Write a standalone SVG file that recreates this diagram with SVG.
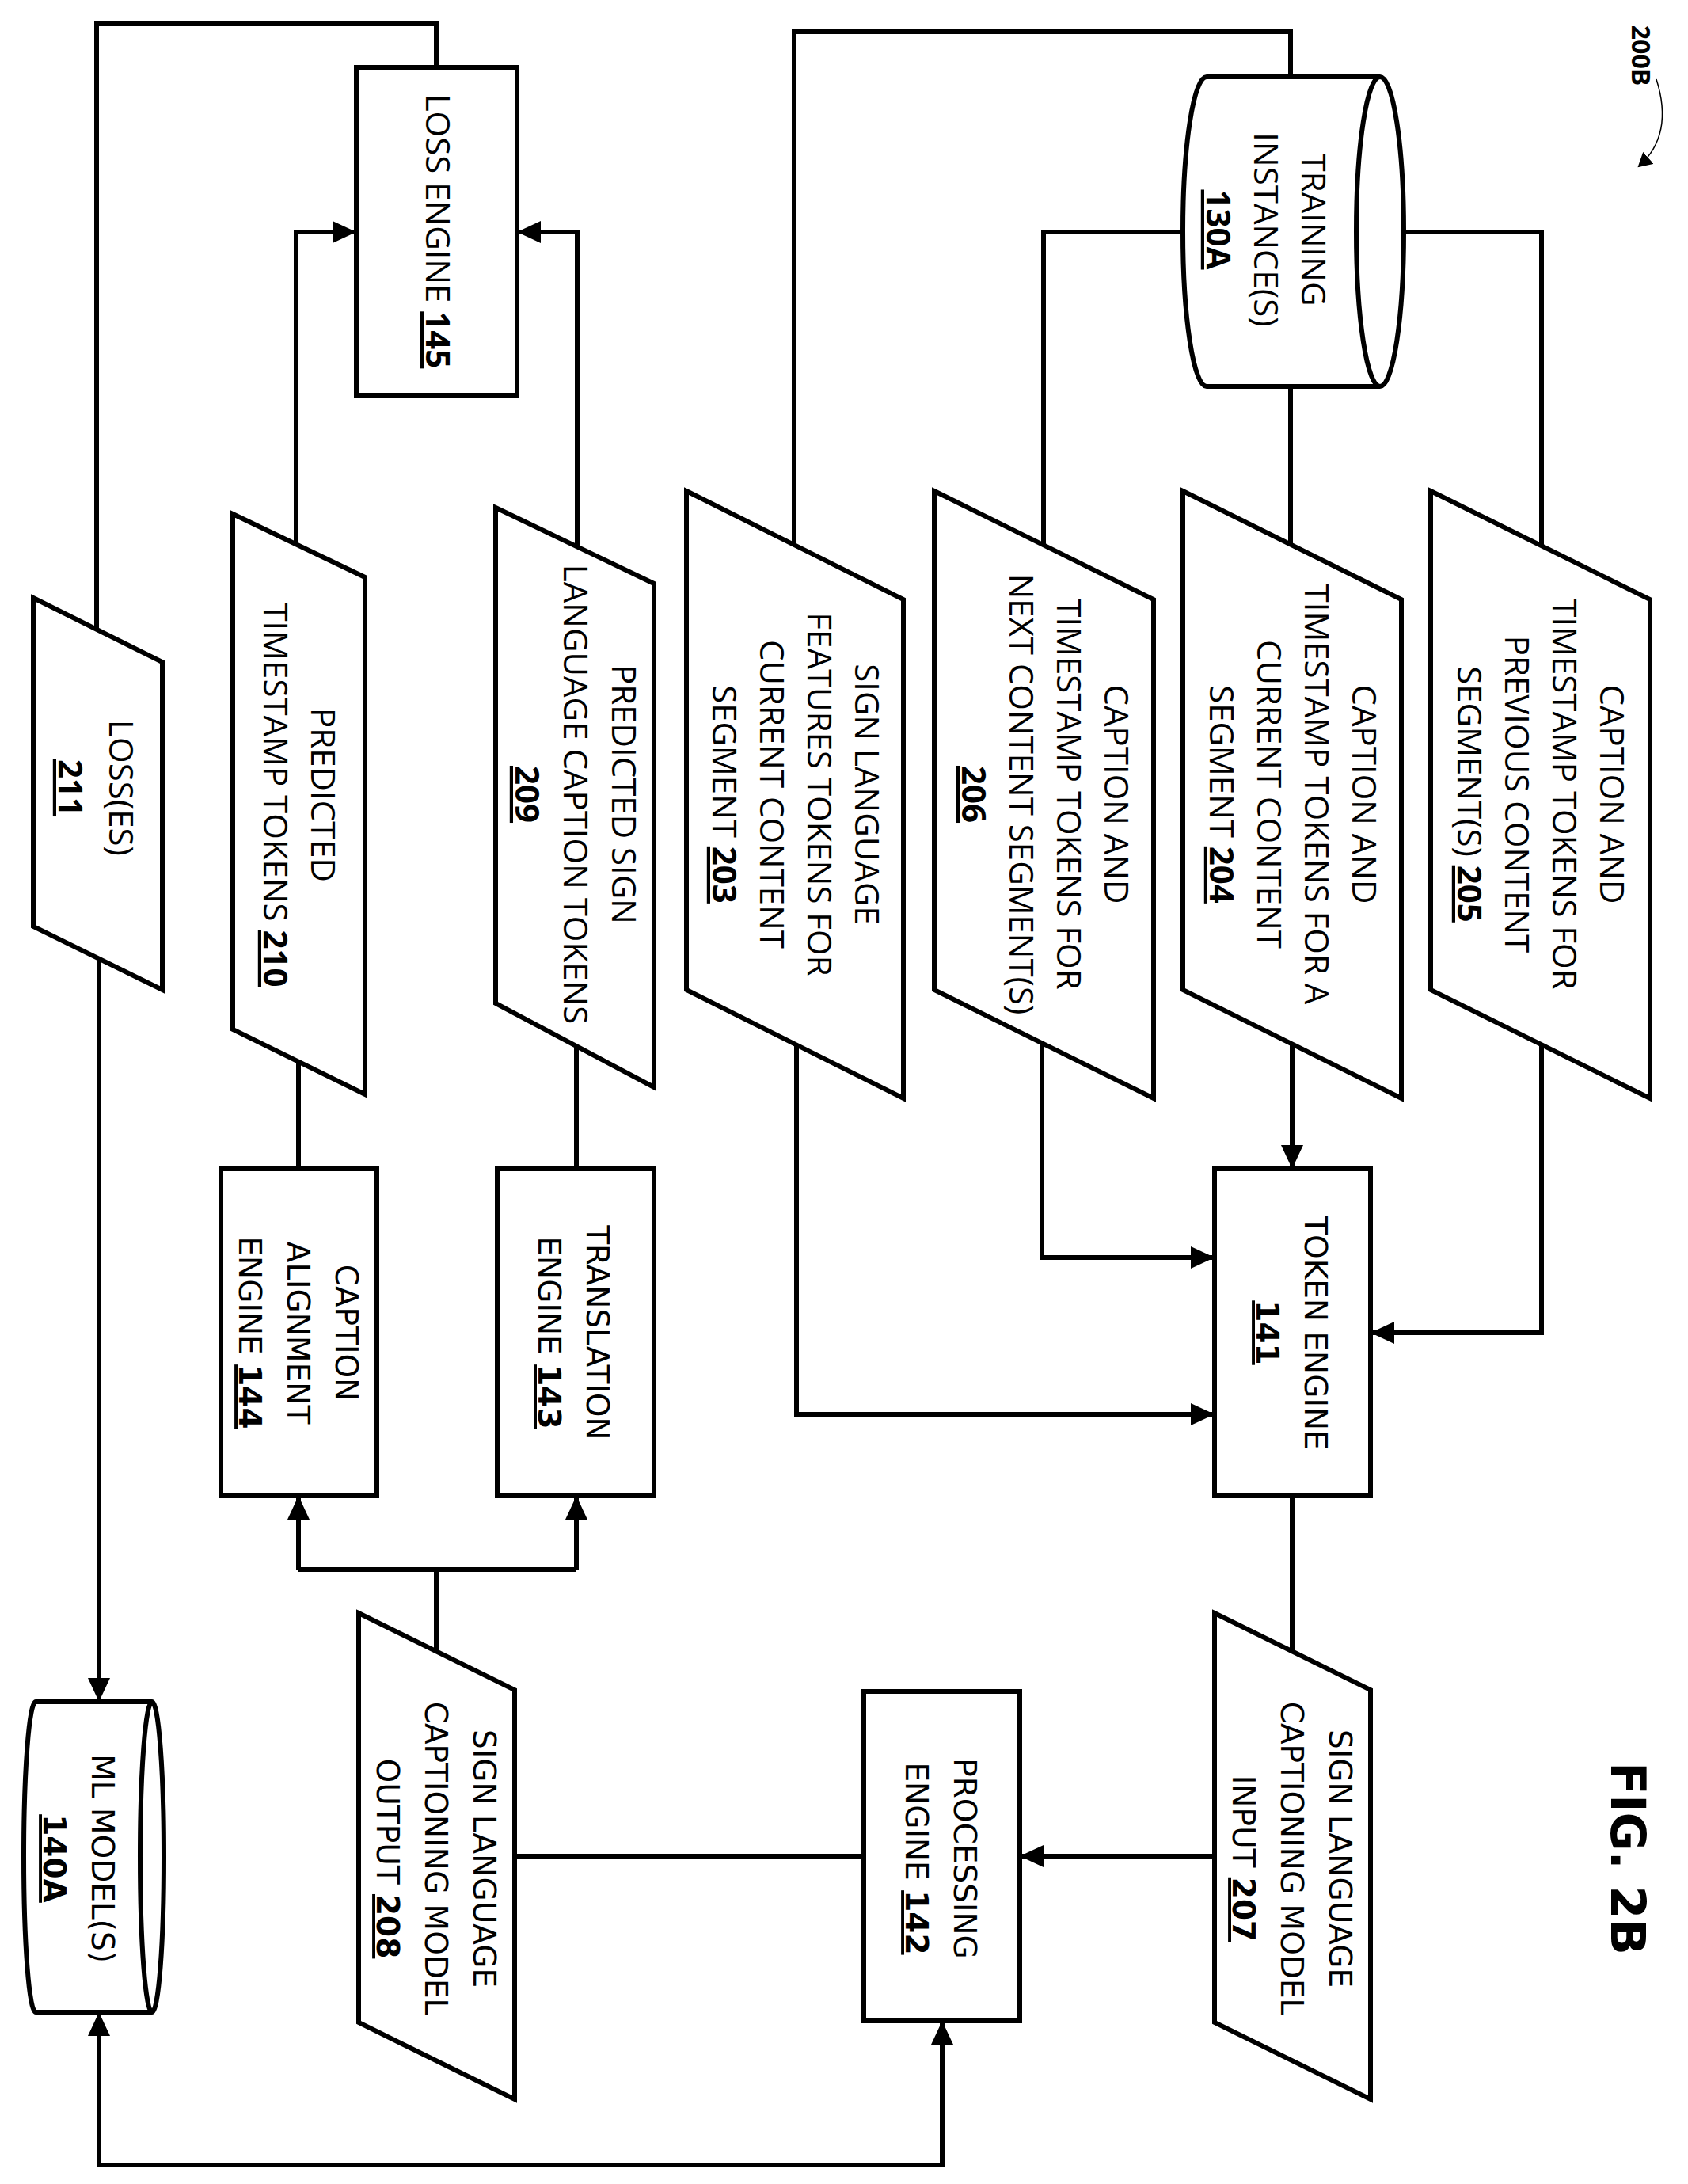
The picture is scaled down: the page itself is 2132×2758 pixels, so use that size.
<svg xmlns="http://www.w3.org/2000/svg" width="2132" height="2758" viewBox="0 0 2132 2758">
<style>
.s{fill:#fff;stroke:#000;stroke-width:6;stroke-linejoin:miter}
.c{fill:none;stroke:#000;stroke-width:6}
.u{font-family:"Open Sans","DejaVu Sans",sans-serif;font-size:42px;fill:#000;text-anchor:middle}
.l{font-family:"DejaVu Sans",sans-serif;font-size:39px;fill:#000;text-anchor:middle}
.b{font-weight:bold;text-decoration:underline}
</style>
<defs>
<marker id="a" markerUnits="userSpaceOnUse" markerWidth="32" markerHeight="28" refX="30" refY="14" orient="auto-start-reverse"><path d="M0,0 L30,14 L0,28 Z" fill="#000"/></marker>
<marker id="t" markerUnits="userSpaceOnUse" markerWidth="20" markerHeight="20" refX="16" refY="10" orient="auto"><path d="M0,0 L18,10 L0,20 Z" fill="#000"/></marker>
</defs>
<rect width="2132" height="2758" fill="#fff"/>
<g id="connectors">
<path class="c" d="M122,795 V30 H551 V85"/>
<path class="c" d="M374,687 V293 H450" marker-end="url(#a)"/>
<path class="c" d="M729,690 V293 H653" marker-end="url(#a)"/>
<path class="c" d="M1003,688 V40 H1630 V97"/>
<path class="c" d="M1494,293 H1318 V688"/>
<path class="c" d="M1773,293 H1947 V689"/>
<path class="c" d="M1630,488 V689"/>
<path class="c" d="M1006,1319 V1786 H1534" marker-end="url(#a)"/>
<path class="c" d="M1316,1318 V1588 H1534" marker-end="url(#a)"/>
<path class="c" d="M1632,1319 V1476" marker-end="url(#a)"/>
<path class="c" d="M1947,1320 V1683 H1731" marker-end="url(#a)"/>
<path class="c" d="M377,1331 V1476"/>
<path class="c" d="M728,1321 V1476"/>
<path class="c" d="M551,2085 V1982"/>
<path class="c" d="M377,1982 H728"/>
<path class="c" d="M377,1982 V1889" marker-end="url(#a)"/>
<path class="c" d="M728,1982 V1889" marker-end="url(#a)"/>
<path class="c" d="M1632,1889 V2085"/>
<path class="c" d="M1534,2344 H1288" marker-end="url(#a)"/>
<path class="c" d="M650,2344 H1091"/>
<path class="c" d="M125,1211 V2149" marker-end="url(#a)"/>
<path class="c" d="M125,2541 V2734 H1190 V2552" marker-start="url(#a)" marker-end="url(#a)"/>
<path d="M2092,100 C2108,150 2098,185 2070,210" fill="none" stroke="#000" stroke-width="1.5" marker-end="url(#t)"/>
</g>
<g id="n145"><rect class="s" x="450" y="85" width="203" height="414"/>
<text class="u" transform="translate(552,292) rotate(90)" y="14">LOSS ENGINE  <tspan class="b">145</tspan></text></g>
<g id="n211"><polygon class="s" points="42,755 205,836 205,1250 42,1170"/>
<text class="u" transform="translate(120,995) rotate(90)"><tspan x="0" y="-18">LOSS(ES)</tspan><tspan class="b" x="0" y="46">211</tspan></text></g>
<g id="n210"><polygon class="s" points="294,649 461,729 461,1382 294,1300"/>
<text class="u" transform="translate(377,1004) rotate(90)"><tspan x="0" y="-16">PREDICTED</tspan><tspan x="0" y="44">TIMESTAMP TOKENS  <tspan class="b">210</tspan></tspan></text></g>
<g id="n209"><polygon class="s" points="626,641 826,737 826,1373 626,1267"/>
<text class="u" transform="translate(726,1003) rotate(90)"><tspan x="0" y="-47">PREDICTED SIGN</tspan><tspan x="0" y="14">LANGUAGE CAPTION TOKENS</tspan><tspan class="b" x="0" y="75">209</tspan></text></g>
<g id="n203"><polygon class="s" points="867,620 1141,757 1141,1387 867,1250"/>
<text class="u" transform="translate(1004,1003) rotate(90)"><tspan x="0" y="-76">SIGN LANGUAGE</tspan><tspan x="0" y="-16">FEATURES TOKENS FOR</tspan><tspan x="0" y="44">CURRENT CONTENT</tspan><tspan x="0" y="104">SEGMENT  <tspan class="b">203</tspan></tspan></text></g>
<g id="n206"><polygon class="s" points="1180,620 1457,757 1457,1387 1180,1250"/>
<text class="u" transform="translate(1315,1003) rotate(90)"><tspan x="0" y="-80">CAPTION AND</tspan><tspan x="0" y="-20">TIMESTAMP TOKENS FOR</tspan><tspan x="0" y="40">NEXT CONTENT SEGMENT(S)</tspan><tspan class="b" x="0" y="100">206</tspan></text></g>
<g id="n204"><polygon class="s" points="1494,620 1770,757 1770,1387 1494,1250"/>
<text class="u" transform="translate(1632,1003) rotate(90)"><tspan x="0" y="-76">CAPTION AND</tspan><tspan x="0" y="-16">TIMESTAMP TOKENS FOR A</tspan><tspan x="0" y="44">CURRENT CONTENT</tspan><tspan x="0" y="104">SEGMENT  <tspan class="b">204</tspan></tspan></text></g>
<g id="n205"><polygon class="s" points="1807,620 2084,757 2084,1387 1807,1250"/>
<text class="u" transform="translate(1945,1003) rotate(90)"><tspan x="0" y="-76">CAPTION AND</tspan><tspan x="0" y="-16">TIMESTAMP TOKENS FOR</tspan><tspan x="0" y="44">PREVIOUS CONTENT</tspan><tspan x="0" y="104">SEGMENT(S)  <tspan class="b">205</tspan></tspan></text></g>
<g id="n130A"><path class="s" d="M1743,97 L1524,97 A30,195.5 0 0 0 1524,488 L1743,488"/><ellipse class="s" cx="1743" cy="292.5" rx="30" ry="195.5"/>
<text class="u" transform="translate(1599,290) rotate(90)"><tspan x="0" y="-45">TRAINING</tspan><tspan x="0" y="15">INSTANCE(S)</tspan><tspan class="b" x="0" y="75">130A</tspan></text></g>
<g id="n144"><rect class="s" x="279" y="1476" width="197" height="413"/>
<text class="l" transform="translate(377,1683) rotate(90)"><tspan x="0" y="-47">CAPTION</tspan><tspan x="0" y="14">ALIGNMENT</tspan><tspan x="0" y="75">ENGINE  <tspan class="b">144</tspan></tspan></text></g>
<g id="n143"><rect class="s" x="628" y="1476" width="198" height="413"/>
<text class="l" transform="translate(725,1683) rotate(90)"><tspan x="0" y="-16">TRANSLATION</tspan><tspan x="0" y="45">ENGINE  <tspan class="b">143</tspan></tspan></text></g>
<g id="n141"><rect class="s" x="1534" y="1476" width="197" height="413"/>
<text class="l" transform="translate(1632,1683) rotate(90)"><tspan x="0" y="-16">TOKEN ENGINE</tspan><tspan class="b" x="0" y="45">141</tspan></text></g>
<g id="n207"><polygon class="s" points="1534,2037 1731,2134 1731,2651 1534,2554"/>
<text class="l" transform="translate(1632,2347) rotate(90)"><tspan x="0" y="-47">SIGN LANGUAGE</tspan><tspan x="0" y="14">CAPTIONING MODEL</tspan><tspan x="0" y="75">INPUT  <tspan class="b">207</tspan></tspan></text></g>
<g id="n208"><polygon class="s" points="453,2037 650,2134 650,2651 453,2554"/>
<text class="l" transform="translate(551,2347) rotate(90)"><tspan x="0" y="-47">SIGN LANGUAGE</tspan><tspan x="0" y="14">CAPTIONING MODEL</tspan><tspan x="0" y="75">OUTPUT  <tspan class="b">208</tspan></tspan></text></g>
<g id="n142"><rect class="s" x="1091" y="2136" width="197" height="416"/>
<text class="l" transform="translate(1189,2347) rotate(90)"><tspan x="0" y="-16">PROCESSING</tspan><tspan x="0" y="45">ENGINE  <tspan class="b">142</tspan></tspan></text></g>
<g id="n140A"><path class="s" d="M192,2149 L45,2149 A15,196 0 0 0 45,2541 L192,2541"/><ellipse class="s" cx="192" cy="2345" rx="15" ry="196"/>
<text class="l" transform="translate(100,2347) rotate(90)"><tspan x="0" y="-16">ML MODEL(S)</tspan><tspan class="b" x="0" y="45">140A</tspan></text></g>
<g id="labels">
<text transform="translate(2057,2347) rotate(90)" y="22" font-family="'DejaVu Sans',sans-serif" font-weight="bold" font-size="60" text-anchor="middle">FIG. 2B</text>
<text transform="translate(2072,70) rotate(90)" y="11" font-family="'Open Sans',sans-serif" font-weight="bold" font-size="32" text-anchor="middle">200B</text>
</g>
</svg>
